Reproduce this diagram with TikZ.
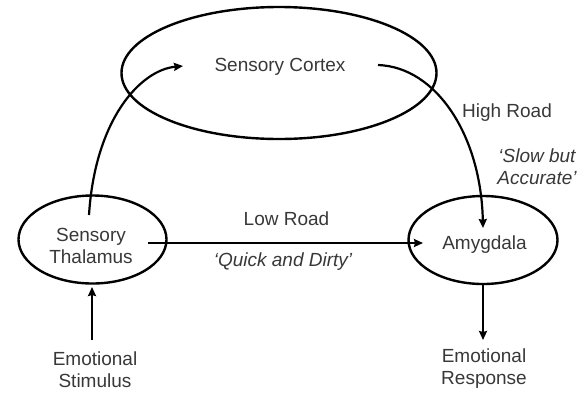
\documentclass[tikz,border=0pt]{standalone}
\usepackage{fontspec}
\setmainfont{Liberation Sans}
\usetikzlibrary{shapes.geometric,arrows.meta}
\begin{document}
\begin{tikzpicture}[x=1pt,y=-1pt,
  region/.style={ellipse,draw,line width=2.4pt,inner sep=0pt},
  lbl/.style={font=\fontsize{19}{22}\selectfont,text=black!78,align=center,inner sep=0pt},
  conn/.style={line width=2.2pt,-{Stealth[length=9pt,width=8pt,inset=1pt]}}]
\useasboundingbox (0,0) rectangle (584,392);
% regions
\node[region,minimum width=315pt,minimum height=132pt] (cortex) at (279,73) {};
\node[region,minimum width=148pt,minimum height=88pt] (thal) at (92.5,239.5) {};
\node[region,minimum width=149pt,minimum height=88pt] (amyg) at (483,240) {};
% texts
\node[lbl] (tcortex) at (280,67) {Sensory Cortex};
\node[lbl] (tthal) at (91,246) {Sensory\\Thalamus};
\node[lbl] (tamyg) at (484.5,245) {Amygdala};
\node[lbl] (thigh) at (507,113) {High Road};
\node[lbl,font=\fontsize{19}{22}\selectfont\itshape] (tslow) at (537,167) {‘Slow but\\Accurate’};
\node[lbl] (tlow) at (286.5,219) {Low Road};
\node[lbl,font=\fontsize{19}{22}\selectfont\itshape] (tquick) at (283,262) {‘Quick and Dirty’};
\node[lbl] (stim) at (95,369.5) {Emotional\\Stimulus};
\node[lbl] (resp) at (484,369) {Emotional\\Response};
% connector end points
\coordinate (a1) at (89,215);
\coordinate (a2) at (183,66);
\coordinate (b1) at (378,65);
\coordinate (b2) at (483,228);
\coordinate (c1) at (148,243);
\coordinate (c2) at (423,243);
\coordinate (d1) at (92,340);
\coordinate (d2) at (92,287);
\coordinate (e1) at (483,285);
\coordinate (e2) at (483,340);
% connectors
\draw[conn] (a1) .. controls (95,120) and (140,70) .. (a2);
\draw[conn] (b1) .. controls (436,67) and (481,135) .. (b2);
\draw[conn] (c1) -- (c2);
\draw[conn] (d1) -- (d2);
\draw[conn] (e1) -- (e2);
\end{tikzpicture}
\end{document}
